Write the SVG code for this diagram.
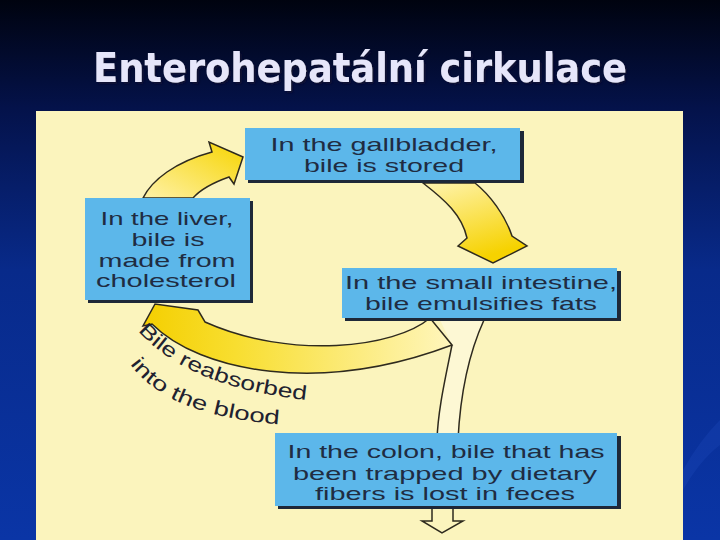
<svg xmlns="http://www.w3.org/2000/svg" width="720" height="540" viewBox="0 0 720 540">
<style>
.box{fill:#5cb7ea}
.sh{fill:#1e2838}
.bt{font-family:"Liberation Sans",Arial,sans-serif;font-size:18.5px;fill:#1f2c42;text-anchor:middle}
.ya{stroke:#2e2a1e;stroke-width:1.5;stroke-linejoin:miter}
.ln{fill:none;stroke:#2e2a1e;stroke-width:1.5}
.lab{font-family:"Liberation Sans",Arial,sans-serif;font-size:20px;fill:#1f2230}
</style>
<defs>
<linearGradient id="bg" x1="0" y1="0" x2="0" y2="1">
<stop offset="0" stop-color="#00030f"/>
<stop offset="0.2" stop-color="#04124a"/>
<stop offset="0.5" stop-color="#082a8a"/>
<stop offset="1" stop-color="#0a35a6"/>
</linearGradient>
<linearGradient id="g1" x1="0" y1="1" x2="1" y2="0">
<stop offset="0" stop-color="#fff2a8"/>
<stop offset="1" stop-color="#f6d400"/>
</linearGradient>
<linearGradient id="g2" x1="0" y1="0" x2="0.4" y2="1">
<stop offset="0" stop-color="#fff4b0"/>
<stop offset="1" stop-color="#f6d200"/>
</linearGradient>
<linearGradient id="g3" x1="1" y1="0" x2="0" y2="0">
<stop offset="0" stop-color="#fff6bc"/>
<stop offset="0.7" stop-color="#f8de30"/>
<stop offset="1" stop-color="#f4cf00"/>
</linearGradient>
<filter id="ds" x="-5%" y="-20%" width="110%" height="140%">
<feDropShadow dx="2" dy="2" stdDeviation="0.8" flood-color="#0a0a30" flood-opacity="0.9"/>
</filter>
<path id="p1" d="M138,331 Q190,390 318,401"/>
<path id="p2" d="M130,364 Q170,419 292,425"/>
</defs>
<rect width="720" height="540" fill="url(#bg)"/>
<path d="M683,470 Q700,440 720,420 L720,445 Q700,460 683,490 Z" fill="#1c48b8" opacity="0.35"/>
<text x="360" y="82" font-family="'DejaVu Sans',sans-serif" font-size="40" font-weight="bold" fill="#e6e6fa" text-anchor="middle" textLength="534" lengthAdjust="spacingAndGlyphs" filter="url(#ds)">Enterohepatální cirkulace</text>
<rect x="36" y="111" width="647" height="429" fill="#fbf4bd"/>
<g id="connectors">
<path class="ya" fill="url(#g1)" d="M143,198 C152,180 175,162 212,152 L209,142 L243,157 L234,184 L229,177 C212,183 200,190 193,198 Z"/>
<path class="ya" fill="url(#g2)" d="M423,183 C445,200 462,215 467,238 L458,246 L493,263 L527,246 L512,236 C505,215 490,195 475,183 Z"/>
<path d="M452,345 C445,380 438,410 437,440 L458,440 C460,400 468,355 484,320 L440,320 Z" fill="#fdf8d4"/>
<path class="ln" d="M452,345 C445,380 438,410 437,440"/>
<path class="ln" d="M484,320 C468,355 460,400 458,440"/>
<path class="ya" fill="url(#g3)" d="M430,318 C395,348 290,360 205,322 L198,310 L155,304 L143,326 L152,324 C200,372 320,395 452,345 Z"/>
<path class="ln" fill="#fdf8d4" d="M432,506 L432,521 L422,521 L442,533 L463,521 L453,521 L453,506"/>
<text class="lab"><textPath href="#p1" textLength="186" lengthAdjust="spacingAndGlyphs">Bile reabsorbed</textPath><textPath href="#p2" textLength="166" lengthAdjust="spacingAndGlyphs">into the blood</textPath></text>
</g>
<g id="gallbladder">
<rect class="sh" x="248" y="131" width="276" height="52"/>
<rect class="box" x="245" y="128" width="275" height="52"/>
<text class="bt" x="384" y="151" textLength="227" lengthAdjust="spacingAndGlyphs">In the gallbladder,</text>
<text class="bt" x="384" y="172" textLength="160" lengthAdjust="spacingAndGlyphs">bile is stored</text>
</g>
<g id="liver">
<rect class="sh" x="88" y="201" width="165" height="102"/>
<rect class="box" x="85" y="198" width="165" height="102"/>
<text class="bt" x="167" y="225" textLength="133" lengthAdjust="spacingAndGlyphs">In the liver,</text>
<text class="bt" x="168" y="246" textLength="73" lengthAdjust="spacingAndGlyphs">bile is</text>
<text class="bt" x="167" y="267" textLength="137" lengthAdjust="spacingAndGlyphs">made from</text>
<text class="bt" x="166" y="287" textLength="140" lengthAdjust="spacingAndGlyphs">cholesterol</text>
</g>
<g id="small-intestine">
<rect class="sh" x="345" y="271" width="276" height="50"/>
<rect class="box" x="342" y="268" width="275" height="50"/>
<text class="bt" x="481" y="289" textLength="272" lengthAdjust="spacingAndGlyphs">In the small intestine,</text>
<text class="bt" x="481" y="310" textLength="232" lengthAdjust="spacingAndGlyphs">bile emulsifies fats</text>
</g>
<g id="colon">
<rect class="sh" x="278" y="436" width="343" height="73"/>
<rect class="box" x="275" y="433" width="342" height="73"/>
<text class="bt" x="446" y="458" textLength="317" lengthAdjust="spacingAndGlyphs">In the colon, bile that has</text>
<text class="bt" x="445" y="480" textLength="304" lengthAdjust="spacingAndGlyphs">been trapped by dietary</text>
<text class="bt" x="445" y="500" textLength="260" lengthAdjust="spacingAndGlyphs">fibers is lost in feces</text>
</g>
</svg>
